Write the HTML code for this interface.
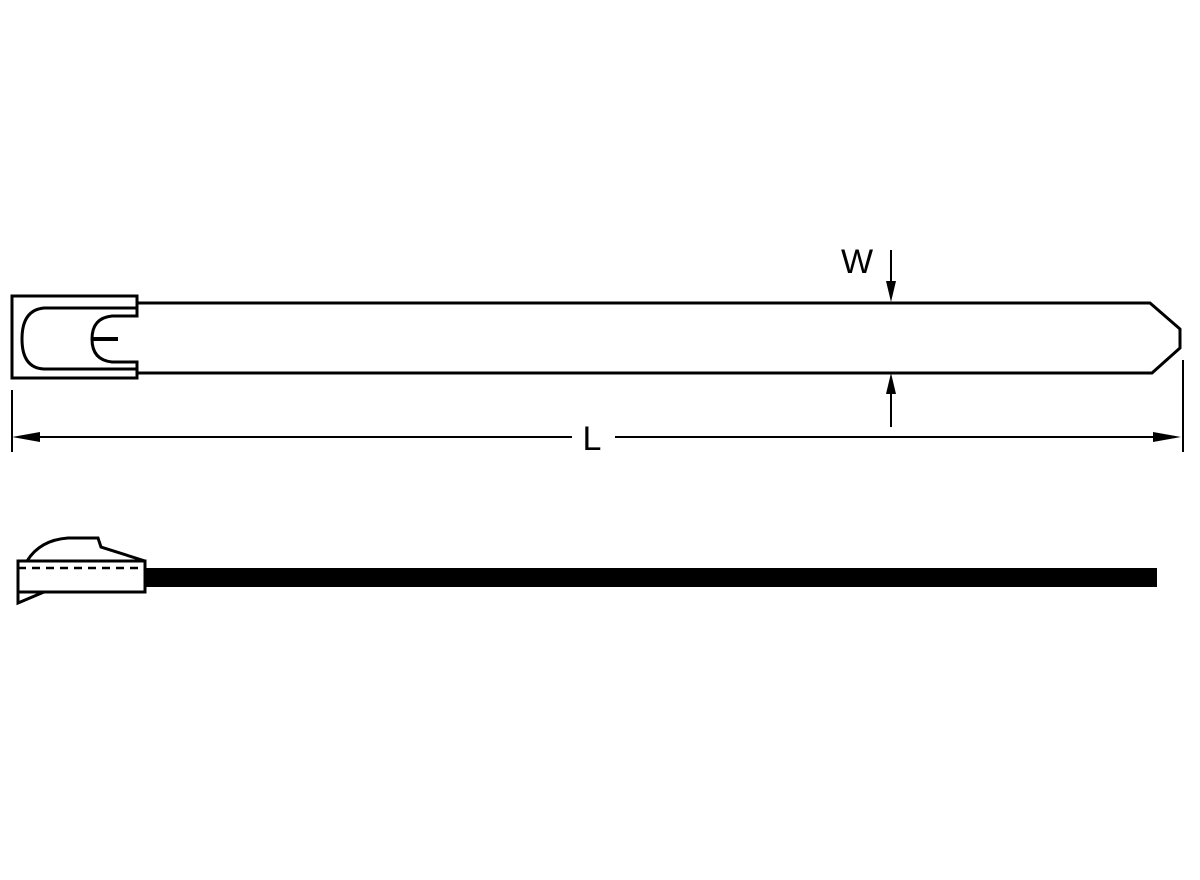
<!DOCTYPE html>
<html><head><style>html,body{margin:0;padding:0;background:#fff;}svg{display:block}</style></head>
<body>
<svg width="1200" height="880" viewBox="0 0 1200 880" xmlns="http://www.w3.org/2000/svg">
<g fill="none" stroke="#000" stroke-width="3">
<!-- top strap -->
<path d="M137 303 H1150 L1180 329 V348 L1152 373 H137"/>
<!-- head -->
<path d="M137 308 V296 H12 V378 H137 V369"/>
<path d="M137 308 H44 Q22 310 22 339 Q22 368 44 369 H137"/>
<path d="M137 308 V316 H112 Q92 318 92 339 Q92 360 112 362 H137 V369"/>
</g>
<line x1="93" y1="339" x2="118" y2="339" stroke="#000" stroke-width="4"/>
<!-- dimensions -->
<g stroke="#000" stroke-width="2">
<line x1="12" y1="390" x2="12" y2="452"/>
<line x1="1183" y1="360" x2="1183" y2="452"/>
<line x1="24" y1="437" x2="572" y2="437"/>
<line x1="615" y1="437" x2="1168" y2="437"/>
<line x1="891" y1="250" x2="891" y2="285"/>
<line x1="891" y1="390" x2="891" y2="427"/>
</g>
<g fill="#000">
<polygon points="12,437 40,432 40,442"/>
<polygon points="1181,437 1153,432 1153,442"/>
<polygon points="891,302 886,281 896,281"/>
<polygon points="891,373 886,394 896,394"/>
</g>
<text x="857" y="273" font-family="Liberation Sans, sans-serif" font-size="34" text-anchor="middle">W</text>
<text x="592" y="450" font-family="Liberation Sans, sans-serif" font-size="34" text-anchor="middle">L</text>
<!-- bottom view -->
<rect x="145" y="568" width="1012" height="19" fill="#000"/>
<g fill="none" stroke="#000" stroke-width="3">
<rect x="18" y="561" width="127" height="31"/>
<path d="M27 561 Q40 540 68 538 H98 L101 547 L145 561"/>
<path d="M18 592 V603 L44 592"/>
</g>
<line x1="18" y1="568" x2="145" y2="568" stroke="#000" stroke-width="2.5" stroke-dasharray="8,6"/>
</svg>
</body></html>
